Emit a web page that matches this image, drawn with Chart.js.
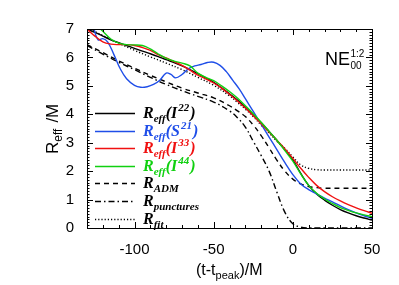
<!DOCTYPE html>
<html lang="en">
<head>
  <meta charset="UTF-8">
  <title>R_eff</title>
  <script src="https://cdn.jsdelivr.net/npm/chart.js"></script>
  <style>
    html, body { margin: 0; padding: 0; background: #fff; }
  </style>
</head>
<body>
  <canvas id="myChart" width="399" height="285"></canvas>
<script>
  // time axis (t - t_peak)/M shared by the smooth curves
  const times = [-130, -125, -120, -115, -110, -105, -100, -95, -90, -85, -80, -75, -70, -65, -60, -55, -50, -45, -40,
    -35, -30, -25, -20, -15, -10, -5, 0, 5, 10, 15, 20, 25, 30, 35, 40, 45, 50];

  const rI22 = [7.0, 6.88, 6.75, 6.62, 6.52, 6.42, 6.32, 6.22, 6.13, 6.03, 5.92, 5.82, 5.7, 5.57, 5.43, 5.28, 5.12, 4.93, 4.72,
    4.5, 4.25, 3.98, 3.7, 3.4, 3.08, 2.75, 2.4, 1.92, 1.5, 1.2, 0.98, 0.8, 0.65, 0.53, 0.43, 0.35, 0.28];
  const rI33 = [7.0, 6.75, 6.55, 6.47, 6.45, 6.45, 6.42, 6.35, 6.25, 6.1, 5.98, 5.85, 5.72, 5.55, 5.38, 5.25, 5.1, 4.92, 4.7,
    4.47, 4.22, 3.95, 3.67, 3.38, 3.08, 2.78, 2.45, 2.1, 1.78, 1.5, 1.28, 1.1, 0.95, 0.82, 0.71, 0.61, 0.52];
  const rI44 = [7.5, 7.2, 6.92, 6.65, 6.5, 6.45, 6.44, 6.42, 6.3, 6.12, 5.97, 5.87, 5.8, 5.7, 5.45, 5.3, 5.18, 5.0, 4.8,
    4.57, 4.3, 4.02, 3.72, 3.4, 3.08, 2.72, 2.35, 1.9, 1.5, 1.22, 1.02, 0.86, 0.72, 0.62, 0.53, 0.46, 0.40];

  // S21 wiggles, so it gets its own time points
  const timesS21 = [-130, -126, -123, -120, -117, -113, -109, -105, -100, -96, -92, -88, -84, -80, -77, -74, -70, -66, -62,
    -58, -54, -50, -46, -42, -38, -34, -30, -25, -20, -15, -10, -5, 0, 5, 10, 15, 20, 25, 30, 35, 40, 45, 50];
  const rS21 = [7.9, 7.1, 6.62, 6.66, 6.55, 6.1, 5.6, 5.25, 5.02, 4.95, 4.97, 5.05, 5.2, 5.45, 5.4, 5.28, 5.4, 5.6, 5.7,
    5.75, 5.82, 5.83, 5.72, 5.5, 5.2, 4.9, 4.55, 4.1, 3.65, 3.2, 2.75, 2.3, 1.88, 1.55, 1.35, 1.2, 1.05, 0.92, 0.78, 0.65,
    0.53, 0.43, 0.34];

  const timesRest = [-130, -120, -110, -100, -90, -80, -70, -60, -50, -40, -35, -30, -25, -20, -15, -10, -5, 0, 5, 10, 15,
    20, 30, 40, 50];
  const rADM = [6.45, 6.17, 5.88, 5.62, 5.37, 5.14, 4.92, 4.75, 4.58, 4.3, 4.12, 3.92, 3.62, 3.25, 2.82, 2.38, 2.0, 1.72,
    1.55, 1.46, 1.42, 1.4, 1.4, 1.4, 1.4];
  const rPunct = [6.42, 6.12, 5.83, 5.57, 5.3, 5.05, 4.83, 4.63, 4.43, 4.12, 3.88, 3.55, 3.05, 2.55, 2.0, 1.25, 0.55, 0.15,
    0.03, 0.0, 0.0, 0.0, 0.0, 0.0, 0.0];
  const rFit = [7.05, 6.77, 6.5, 6.25, 6.02, 5.8, 5.57, 5.3, 5.02, 4.65, 4.42, 4.18, 3.92, 3.62, 3.35, 3.05, 2.8, 2.5,
    2.22, 2.1, 2.05, 2.04, 2.04, 2.04, 2.04];

  const xTicks = [-100, -50, 0, 50];
  const yTicks = [0, 1, 2, 3, 4, 5, 6, 7];

  function pts(tt, vv) {
    return tt.map((t, i) => ({ x: t, y: vv[i] }));
  }

  var blue = '#1f4ee8', red = '#f01010', green = '#10d010';

  // legend entries: [main, sub, bracket-text, sup, colour, dash]
  var legendRows = [
    ['R', 'eff', '(I', '22', '#000', []],
    ['R', 'eff', '(S', '21', blue, []],
    ['R', 'eff', '(I', '33', red, []],
    ['R', 'eff', '(I', '44', green, []],
    ['R', 'ADM', '', '', '#000', [5, 4]],
    ['R', 'punctures', '', '', '#000', [6, 3, 1.5, 3]],
    ['R', 'fit', '', '', '#000', [1.2, 2]]
  ];

  const decor = {
    id: 'decor',
    afterDraw(chart) {
      const ctx = chart.ctx;
      const a = chart.chartArea;
      const x = chart.scales.x, y = chart.scales.y;
      ctx.save();
      ctx.strokeStyle = '#000';
      ctx.lineWidth = 1;
      ctx.setLineDash([]);
      ctx.strokeRect(Math.round(a.left) + 0.5, Math.round(a.top) + 0.5, Math.round(a.right - a.left), Math.round(a.bottom - a.top));

      // inward ticks on all four sides
      ctx.beginPath();
      for (let t = -130; t <= 50; t += 10) {
        let px = Math.round(x.getPixelForValue(t)) + 0.5;
        let len = (t % 50 === 0) ? 6 : 3;
        ctx.moveTo(px, a.bottom); ctx.lineTo(px, a.bottom - len);
        ctx.moveTo(px, a.top); ctx.lineTo(px, a.top + len);
      }
      for (let k = 0; k <= 70; k++) {
        let py = Math.round(y.getPixelForValue(k / 10)) + 0.5;
        let len = (k % 10 === 0) ? 6 : 2.5;
        ctx.moveTo(a.left, py); ctx.lineTo(a.left + len, py);
        ctx.moveTo(a.right, py); ctx.lineTo(a.right - len, py);
      }
      ctx.stroke();

      // axis titles
      ctx.fillStyle = '#000';
      ctx.textBaseline = 'alphabetic';
      ctx.font = '16px "Liberation Sans"';
      let tx = 196, ty = 275;
      ctx.fillText('(t-t', tx, ty); tx += ctx.measureText('(t-t').width;
      ctx.font = '11px "Liberation Sans"';
      ctx.fillText('peak', tx, ty + 4); tx += ctx.measureText('peak').width;
      ctx.font = '16px "Liberation Sans"';
      ctx.fillText(')/M', tx, ty);

      ctx.save();
      ctx.translate(58, 154);
      ctx.rotate(-Math.PI / 2);
      let ry = 0, rx = 0;
      ctx.font = '17px "Liberation Sans"';
      ctx.fillText('R', rx, ry); rx += ctx.measureText('R').width;
      ctx.font = '12px "Liberation Sans"';
      ctx.fillText('eff', rx, ry + 4); rx += ctx.measureText('eff').width + 6;
      ctx.font = '17px "Liberation Sans"';
      ctx.fillText('/M', rx, ry);
      ctx.restore();

      // NE label
      ctx.font = '18px "Liberation Sans"';
      ctx.fillText('NE', 325, 65);
      let nx = 325 + ctx.measureText('NE').width + 0.5;
      ctx.font = '10px "Liberation Sans"';
      ctx.fillText('1:2', nx, 57);
      ctx.fillText('00', nx, 69);

      // legend
      legendRows.forEach((r, i) => {
        let ly = 113 + i * 17.6;
        ctx.strokeStyle = r[4];
        ctx.lineWidth = 1.4;
        ctx.setLineDash(r[5]);
        ctx.beginPath();
        ctx.moveTo(95, Math.round(ly) + 0.5);
        ctx.lineTo(135, Math.round(ly) + 0.5);
        ctx.stroke();
        ctx.fillStyle = r[4];
        let lx = 143, base = ly + 5;
        ctx.font = 'bold italic 16px "Liberation Serif"';
        ctx.fillText(r[0], lx, base); lx += ctx.measureText(r[0]).width;
        ctx.font = 'bold italic 11px "Liberation Serif"';
        ctx.fillText(r[1], lx, base + 4); lx += ctx.measureText(r[1]).width;
        if (r[2]) {
          ctx.font = 'bold italic 16px "Liberation Serif"';
          ctx.fillText(r[2], lx, base); lx += ctx.measureText(r[2]).width + 1;
          ctx.font = 'bold italic 11px "Liberation Serif"';
          ctx.fillText(r[3], lx, base - 7); lx += ctx.measureText(r[3]).width + 1;
          ctx.font = 'bold italic 16px "Liberation Serif"';
          ctx.fillText(')', lx, base);
        }
      });
      ctx.restore();
    }
  };

  function line(data, color, dash, width, tension) {
    return {
      data: data,
      borderColor: color,
      borderWidth: width,
      borderDash: dash,
      pointRadius: 0,
      fill: false,
      tension: tension
    };
  }

  new Chart(document.getElementById('myChart'), {
    type: 'line',
    data: {
      datasets: [
        line(pts(times, rI44), green, [], 1.4, 0.4),
        line(pts(times, rI33), red, [], 1.4, 0.4),
        line(pts(timesS21, rS21), blue, [], 1.4, 0.4),
        line(pts(times, rI22), '#000', [], 1.4, 0.4),
        line(pts(timesRest, rADM), '#000', [5, 4], 1.4, 0.4),
        line(pts(timesRest, rPunct), '#000', [6, 3, 1.5, 3], 1.4, 0.4),
        line(pts(timesRest, rFit), '#000', [1.2, 2], 1.4, 0.4)
      ]
    },
    options: {
      responsive: false,
      animation: false,
      layout: { padding: { left: 0, right: 27, top: 29, bottom: 0 } },
      plugins: { legend: { display: false }, tooltip: { enabled: false } },
      scales: {
        x: {
          type: 'linear',
          min: -130,
          max: 50,
          grid: { display: false },
          border: { display: false },
          afterBuildTicks: s => { s.ticks = xTicks.map(v => ({ value: v })); },
          afterFit: s => { s.height = 57; },
          ticks: { color: '#000', padding: 5, maxRotation: 0, font: { family: 'Liberation Sans', size: 15 } }
        },
        y: {
          min: 0,
          max: 7,
          grid: { display: false },
          border: { display: false },
          afterBuildTicks: s => { s.ticks = yTicks.map(v => ({ value: v })); },
          afterFit: s => { s.width = 87; },
          ticks: { color: '#000', padding: 5, font: { family: 'Liberation Sans', size: 15 } }
        }
      }
    },
    plugins: [decor]
  });
</script>
</body>
</html>
